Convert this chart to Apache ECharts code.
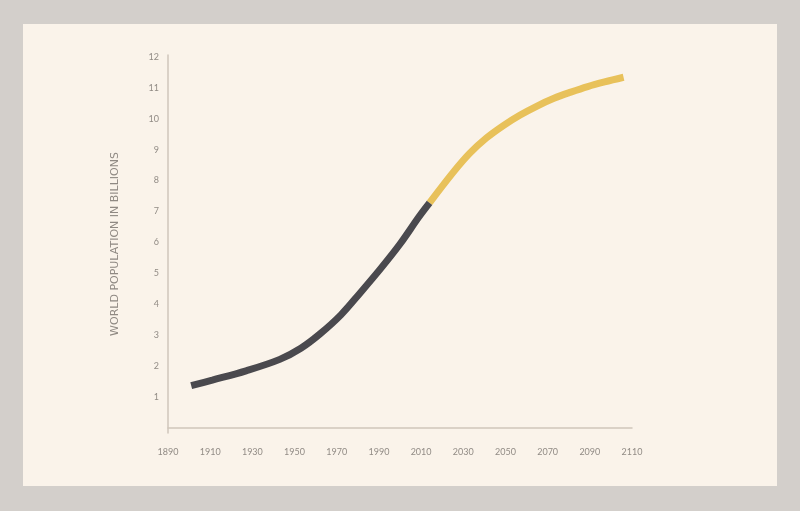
<!DOCTYPE html>
<html>
<head>
<meta charset="utf-8">
<script src="https://cdn.jsdelivr.net/npm/echarts@6/dist/echarts.min.js"></script>
<style>
html,body{margin:0;padding:0;background:#d3cfcb;}
#chart{width:800px;height:511px;}
</style>
</head>
<body>
<div id="chart"></div>
<script>
// Data
var histYears = [1901, 1911, 1927, 1943, 1953, 1962, 1972, 1981, 1991, 2000, 2009, 2014];
var histValues = [1.37, 1.55, 1.85, 2.22, 2.58, 3.04, 3.66, 4.36, 5.17, 5.95, 6.83, 7.28];
var projYears = [2014, 2025, 2033, 2041, 2049, 2057, 2065, 2073, 2081, 2089, 2097, 2106];
var projValues = [7.28, 8.25, 8.88, 9.38, 9.78, 10.12, 10.41, 10.66, 10.86, 11.04, 11.19, 11.34];
var yTickValues = [1, 2, 3, 4, 5, 6, 7, 8, 9, 10, 11, 12];
var yAxisTitle = 'WORLD POPULATION IN BILLIONS';

function pairs(xs, ys) { return xs.map(function (x, i) { return [x, ys[i]]; }); }

var chart = echarts.init(document.getElementById('chart'), null, {renderer: 'canvas'});
var labelFont = 'Lato, "Open Sans", sans-serif';
chart.setOption({
  backgroundColor: '#d3cfcb',
  animation: false,
  graphic: [{
    type: 'rect', z: -10, silent: true,
    shape: {x: 23, y: 24, width: 754, height: 462},
    style: {fill: '#faf3ea'}
  }],
  grid: {left: 168, right: 168, top: 55, bottom: 78, containLabel: false},
  xAxis: {
    type: 'value', min: 1890, max: 2110, interval: 20,
    axisLine: {show: true, lineStyle: {color: '#cfc6bb', width: 1.5}},
    axisTick: {show: false},
    splitLine: {show: false},
    axisLabel: {color: '#918b85', fontSize: 9, fontFamily: labelFont, margin: 15,
      showMinLabel: true, showMaxLabel: true, formatter: function (v) { return String(v); }}
  },
  yAxis: {
    type: 'value', min: -0.16, max: 12.06,
    name: yAxisTitle, nameLocation: 'middle', nameRotate: 90, nameGap: 47,
    nameTextStyle: {color: '#8f8983', fontSize: 11, fontFamily: '"DejaVu Sans", sans-serif', fontWeight: 'normal'},
    axisLine: {show: true, lineStyle: {color: '#cfc6bb', width: 1.5}},
    axisTick: {show: false},
    splitLine: {show: false},
    axisLabel: {color: '#918b85', fontSize: 9, fontFamily: labelFont, margin: 9,
      customValues: yTickValues}
  },
  series: [
    {type: 'line', data: pairs(projYears, projValues), smooth: 0.35, symbol: 'none',
      lineStyle: {color: '#e8c15a', width: 7, cap: 'butt'}},
    {type: 'line', data: pairs(histYears, histValues), smooth: 0.35, symbol: 'none',
      lineStyle: {color: '#4a494e', width: 7, cap: 'butt'}}
  ]
});
</script>
</body>
</html>
